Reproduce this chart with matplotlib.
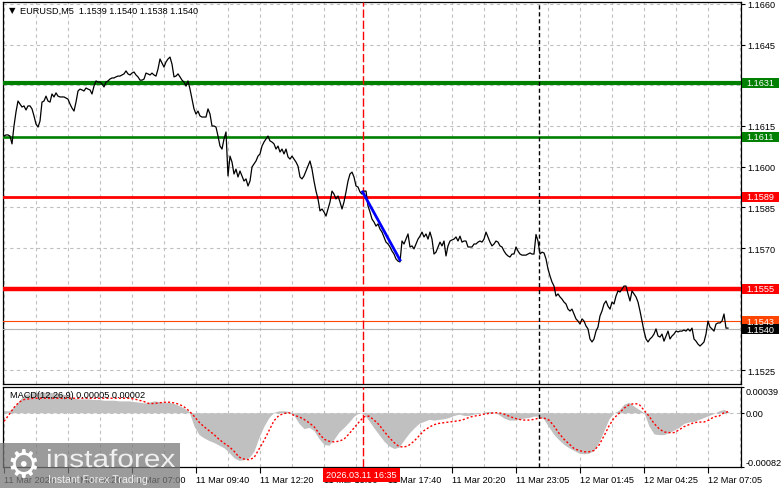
import numpy as np
import matplotlib.pyplot as plt
from matplotlib.patches import Rectangle, PathPatch
from matplotlib.textpath import TextPath
from matplotlib.font_manager import FontProperties
from matplotlib.transforms import Affine2D

plt.rcParams['font.family'] = ['Liberation Sans', 'DejaVu Sans']

# ---------------------------------------------------------------------
# Datos (EURUSD M5)
# ---------------------------------------------------------------------
titulo = "EURUSD,M5  1.1539 1.1540 1.1538 1.1540"

# cierre de cada vela de 5 minutos, desde 11 Mar 01:40
cierres = [
    1.16113, 1.16117, 1.16117, 1.16113, 1.16084, 1.16150, 1.16202, 1.16242, 1.16231, 1.16220,
    1.16224, 1.16209, 1.16224, 1.16224, 1.16213, 1.16187, 1.16157, 1.16146, 1.16168, 1.16238,
    1.16242, 1.16260, 1.16242, 1.16238, 1.16268, 1.16257, 1.16272, 1.16260, 1.16257, 1.16257,
    1.16257, 1.16253, 1.16249, 1.16231, 1.16216, 1.16205, 1.16238, 1.16279, 1.16286, 1.16283,
    1.16279, 1.16290, 1.16286, 1.16283, 1.16268, 1.16297, 1.16316, 1.16312, 1.16312, 1.16305,
    1.16294, 1.16312, 1.16316, 1.16323, 1.16327, 1.16327, 1.16331, 1.16334, 1.16334, 1.16338,
    1.16342, 1.16353, 1.16342, 1.16338, 1.16345, 1.16349, 1.16338, 1.16331, 1.16319, 1.16319,
    1.16323, 1.16345, 1.16342, 1.16338, 1.16345, 1.16338, 1.16334, 1.16360, 1.16397, 1.16382,
    1.16367, 1.16386, 1.16397, 1.16404, 1.16378, 1.16331, 1.16334, 1.16342, 1.16331, 1.16319,
    1.16312, 1.16297, 1.16316, 1.16286, 1.16249, 1.16213, 1.16194, 1.16205, 1.16187, 1.16183,
    1.16183, 1.16183, 1.16213, 1.16194, 1.16150, 1.16150, 1.16146, 1.16113, 1.16076, 1.16065,
    1.16102, 1.16128, 1.15966, 1.16039, 1.16017, 1.15973, 1.15991, 1.15962, 1.15984, 1.15966,
    1.15947, 1.15955, 1.15929, 1.15947, 1.15999, 1.16010, 1.16021, 1.16039, 1.16047, 1.16076,
    1.16091, 1.16102, 1.16113, 1.16095, 1.16091, 1.16084, 1.16065, 1.16076, 1.16054, 1.16065,
    1.16047, 1.16065, 1.16036, 1.16028, 1.16039, 1.16028, 1.16017, 1.16002, 1.15962, 1.15955,
    1.15966, 1.15984, 1.16002, 1.16021, 1.15991, 1.15947, 1.15910, 1.15881, 1.15837, 1.15844,
    1.15833, 1.15818, 1.15844, 1.15870, 1.15910, 1.15899, 1.15881, 1.15892, 1.15870, 1.15844,
    1.15870, 1.15907, 1.15947, 1.15973, 1.15980, 1.15962, 1.15929, 1.15925, 1.15907, 1.15899,
    1.15910, 1.15910, 1.15855, 1.15833, 1.15807, 1.15796, 1.15781, 1.15789, 1.15770, 1.15759,
    1.15741, 1.15722, 1.15715, 1.15704, 1.15689, 1.15678, 1.15660, 1.15652, 1.15649, 1.15726,
    1.15715, 1.15733, 1.15752, 1.15704, 1.15708, 1.15697, 1.15715, 1.15733, 1.15744, 1.15759,
    1.15741, 1.15752, 1.15733, 1.15759, 1.15733, 1.15678, 1.15685, 1.15704, 1.15722, 1.15708,
    1.15726, 1.15671, 1.15708, 1.15726, 1.15730, 1.15733, 1.15741, 1.15726, 1.15744, 1.15722,
    1.15726, 1.15726, 1.15704, 1.15704, 1.15704, 1.15715, 1.15715, 1.15722, 1.15726, 1.15722,
    1.15733, 1.15759, 1.15741, 1.15722, 1.15708, 1.15715, 1.15726, 1.15722, 1.15708, 1.15704,
    1.15689, 1.15678, 1.15671, 1.15667, 1.15678, 1.15678, 1.15704, 1.15689, 1.15678, 1.15674,
    1.15674, 1.15674, 1.15678, 1.15682, 1.15678, 1.15678, 1.15750, 1.15726, 1.15678, 1.15685,
    1.15682, 1.15660, 1.15623, 1.15597, 1.15575, 1.15560, 1.15523, 1.15531, 1.15520, 1.15512,
    1.15501, 1.15494, 1.15475, 1.15468, 1.15475, 1.15457, 1.15439, 1.15431, 1.15420, 1.15439,
    1.15431, 1.15413, 1.15402, 1.15365, 1.15354, 1.15365, 1.15394, 1.15409, 1.15450, 1.15468,
    1.15494, 1.15505, 1.15486, 1.15475, 1.15501, 1.15494, 1.15523, 1.15542, 1.15538, 1.15549,
    1.15560, 1.15560, 1.15531, 1.15505, 1.15542, 1.15531, 1.15520, 1.15501, 1.15468, 1.15431,
    1.15394, 1.15365, 1.15354, 1.15365, 1.15372, 1.15383, 1.15402, 1.15376, 1.15372, 1.15383,
    1.15357, 1.15376, 1.15394, 1.15365, 1.15376, 1.15383, 1.15394, 1.15391, 1.15394, 1.15394,
    1.15398, 1.15394, 1.15402, 1.15394, 1.15405, 1.15365, 1.15357, 1.15346, 1.15339, 1.15346,
    1.15354, 1.15383, 1.15431, 1.15409, 1.15402, 1.15394, 1.15420, 1.15424, 1.15424, 1.15431,
    1.15457, 1.15405, 1.15405,
]

# MACD(12,26,9) en unidades de 1e-5, una lectura cada 2.5 velas
paso_macd = 2.5
macd_hist_e5 = [
    3, 3, 9, 18, 27, 29, 31, 31, 31, 31, 30, 29, 28, 26, 22, 21, 21, 21, 20, 20,
    19, 19, 19, 18, 18, 18, 17, 16, 15, 16, 18, 17, 16, 16, 14, 11, 7, 2, -20, -33,
    -38, -42, -45, -49, -53, -60, -68, -72, -71, -68, -58, -37, -20, -7, 1, 3, 3, 2, -4, -16,
    -24, -22, -27, -39, -48, -49, -40, -29, -22, -14, -5, 0, -2, -12, -23, -33, -43, -50, -54, -52,
    -41, -31, -23, -16, -13, -10, -11, -10, -9, -7, -4, -2, -4, -4, -2, -1, 1, 2, 1, -3,
    -8, -11, -11, -10, -8, -7, -5, -5, -10, -22, -33, -41, -48, -53, -57, -61, -62, -61, -57, -44,
    -27, -9, 0, 4, 13, 16, 10, 5, 0, -20, -32, -33, -33, -30, -26, -22, -16, -14, -13, -10,
    -7, -4, -1, 3, 5, 1,
]
macd_senal_e5 = [
    -13, -3, 8, 16, 20, 21, 22, 22, 22, 22, 22, 22, 22, 22, 22, 22, 22, 22, 22, 22,
    22, 22, 22, 22, 22, 22, 21, 19, 17, 14, 14, 15, 16, 16, 15, 13, 9, 3, -5, -14,
    -21, -27, -33, -40, -46, -51, -58, -67, -70, -71, -68, -55, -42, -27, -12, -4, -1, 0, -4, -6,
    -10, -15, -21, -31, -40, -43, -44, -43, -40, -32, -23, -14, -6, -5, -11, -18, -28, -37, -45, -51,
    -52, -49, -43, -35, -27, -22, -18, -16, -15, -14, -13, -12, -10, -7, -5, -4, -2, -1, 0, 0,
    -2, -5, -8, -10, -11, -11, -10, -8, -8, -11, -20, -31, -40, -47, -54, -57, -59, -59, -57, -49,
    -35, -20, -8, -1, 7, 12, 14, 13, 4, -5, -16, -24, -29, -30, -30, -26, -21, -18, -15, -14,
    -14, -11, -6, -5, 0, 2,
]
macd_texto = "MACD(12,26,9) 0.00005 0.00002"

# niveles horizontales dibujados en el grafico
niveles = [1.1631, 1.1611, 1.1589, 1.1555]
colores_niveles = ['#008000', '#008000', '#ff0000', '#ff0000']
grosores_niveles = [3.0, 1.9, 2.0, 3.2]
precio_ask = 1.1543
precio_bid = 1.1540

# etiquetas del eje de tiempo (cada 32 velas)
barras_etiqueta = [0, 32, 64, 96, 128, 160, 192, 224, 256, 288, 320, 352]
etiquetas_tiempo = ["11 Mar 2026", "11 Mar 04:20", "11 Mar 07:00", "11 Mar 09:40",
                    "11 Mar 12:20", "11 Mar 15:00", "11 Mar 17:40", "11 Mar 20:20",
                    "11 Mar 23:05", "12 Mar 01:45", "12 Mar 04:25", "12 Mar 07:05"]

precios_eje = [1.1525, 1.1540, 1.1555, 1.1570, 1.1585, 1.1600, 1.1615, 1.1630, 1.1645, 1.1660]
ocultos_eje = [1.1540, 1.1555, 1.1630]

barra_linea_roja = 179.25   # 2026.03.11 16:35
texto_linea_roja = "2026.03.11 16:35"
barra_linea_negra = 267.5
tendencia_barras = [179.3, 198.0]
tendencia_precios = [1.15907, 1.15656]

# ---------------------------------------------------------------------
# Figura
# ---------------------------------------------------------------------
W, H = 781, 489
fig = plt.figure(figsize=(W / 100, H / 100), dpi=100)
ax = fig.add_axes([3 / W, 1 - 385 / H, 738 / W, 382 / H])
axm = fig.add_axes([3 / W, 1 - 468 / H, 738 / W, 80 / H])

x_lim = (-0.5, 368.5)
gris_grid = '#c0c0c0'
fs = 6.6

# --- panel de precio ---
ax.plot(np.arange(len(cierres)), cierres, color='black', lw=0.9, zorder=4)
ax.set_xlim(*x_lim)
ax.set_ylim(1.15199, 1.16607)

ax.set_xticks(np.arange(0, 369, 16))
ax.set_xticklabels([])
ax.tick_params(axis='x', length=0)
ax.yaxis.tick_right()
ax.set_yticks(precios_eje)
ax.set_yticklabels(['' if p in ocultos_eje else f'{p:.4f}' for p in precios_eje])
ax.tick_params(axis='y', direction='out', length=3, width=0.8, pad=1.5, labelsize=fs)
ax.grid(True, color=gris_grid, ls=(0, (3, 3)), lw=0.8)
for s in ax.spines.values():
    s.set_linewidth(0.9)

for nivel, color, lw in zip(niveles, colores_niveles, grosores_niveles):
    ax.axhline(nivel, color=color, lw=lw, zorder=3)
ax.axhline(precio_ask, color='#ff4500', lw=0.8, zorder=3)
ax.axhline(precio_bid, color='#b4b4b4', lw=0.8, zorder=3)

# etiquetas de precio coloreadas en el eje derecho
tr = ax.get_yaxis_transform()
alto = 10 * (ax.get_ylim()[1] - ax.get_ylim()[0]) / 382
etiquetas_caja = [(n, c, 'white') for n, c in zip(niveles, colores_niveles)]
etiquetas_caja += [(precio_ask, '#ff4500', 'white'), (precio_bid, 'black', 'white')]
for precio, fondo, letra in etiquetas_caja:
    ax.add_patch(Rectangle((1 + 1 / 738, precio - alto / 2), 37 / 738, alto, transform=tr,
                           facecolor=fondo, edgecolor='none', clip_on=False, zorder=5))
    ax.text(1 + 5 / 738, precio, f'{precio:.4f}', transform=tr, color=letra, fontsize=fs,
            va='center', ha='left', clip_on=False, zorder=6)

ax.plot(tendencia_barras, tendencia_precios, color='#0000ff', lw=2.0, zorder=5)

ax.text(6 / 738, 1 - 8 / 382, '\u25bc', transform=ax.transAxes, fontsize=6,
        va='center', ha='left', family=['DejaVu Sans'])
ax.text(17 / 738, 1 - 8 / 382, titulo, transform=ax.transAxes, fontsize=fs,
        va='center', ha='left')

# --- panel MACD ---
barras_macd = np.arange(len(macd_hist_e5)) * paso_macd
hist = np.array(macd_hist_e5) * 1e-5
senal = np.array(macd_senal_e5) * 1e-5
axm.fill_between(barras_macd, 0, hist, color='#c0c0c0', lw=0, zorder=2)
axm.plot(barras_macd, senal, color='#ff0000', lw=1.0, ls=(0, (1.5, 1.5)), zorder=3)
axm.axhline(0, color=gris_grid, ls=(0, (3, 3)), lw=0.8, zorder=1)
axm.set_xlim(*x_lim)
axm.set_ylim(-0.00082, 0.00039)

axm.set_xticks(barras_etiqueta)
axm.set_xticklabels(etiquetas_tiempo)
axm.set_xticks(np.arange(16, 369, 32), minor=True)
axm.tick_params(axis='x', which='major', direction='out', length=4, width=0.8, pad=2, labelsize=fs)
axm.tick_params(axis='x', which='minor', length=0)
for lbl in axm.get_xticklabels():
    lbl.set_horizontalalignment('left')
axm.grid(True, axis='x', which='both', color=gris_grid, ls=(0, (3, 3)), lw=0.8)

axm.yaxis.tick_right()
axm.set_yticks([0.00039, 0.0, -0.00082])
axm.set_yticklabels(['0.00039', '0.00', '-0.00082'])
axm.tick_params(axis='y', direction='out', length=2, width=0.8, pad=1, labelsize=fs)
yl = axm.get_yticklabels()
yl[0].set_verticalalignment('top')
yl[2].set_verticalalignment('bottom')
for s in axm.spines.values():
    s.set_linewidth(0.9)
axm.text(7 / 738, 1 - 8 / 80, macd_texto, transform=axm.transAxes, fontsize=fs,
         va='center', ha='left', zorder=6)

# lineas verticales que cruzan los dos paneles
for a in (ax, axm):
    a.axvline(barra_linea_roja, color='#ff0000', lw=1.0, ls=(0, (6, 2)), zorder=3)
    a.axvline(barra_linea_negra, color='black', lw=1.0, ls=(0, (3, 2)), zorder=3)

x_roja = (3 + 2 * barra_linea_roja) / W
fig.text(x_roja, 1 - 476 / H, texto_linea_roja, color='white', fontsize=fs, ha='center',
         va='center', zorder=20,
         bbox=dict(boxstyle='square,pad=0.3', facecolor='#ff0000', edgecolor='none'))

# --- logo ---
fig.add_artist(Rectangle((0, 0), 180 / W, 45 / H, transform=fig.transFigure,
                         facecolor='#7a7a7a', edgecolor='none', alpha=0.75, zorder=10))
fig.text(23 / W, 1 - 467 / H, '\u2699', color='white', fontsize=27, ha='center',
         va='center', family=['DejaVu Sans'], zorder=11)
tp = TextPath((0, 0), 'instaforex', size=1, prop=FontProperties(family='Liberation Sans'))
bb = tp.get_extents()
tr_logo = (Affine2D().translate(-bb.x0, 0).scale(127 / bb.width, 18 / bb.y1)
           .translate(48, H - 468).scale(1 / W, 1 / H) + fig.transFigure)
fig.add_artist(PathPatch(tp, transform=tr_logo, facecolor='#f0f0f0', edgecolor='none', zorder=11))
fig.text(48 / W, 1 - 480 / H, 'Instant Forex Trading', color='#eeeeee', fontsize=7.6,
         ha='left', va='center', zorder=11)

fig.savefig('out.png', dpi=100)
